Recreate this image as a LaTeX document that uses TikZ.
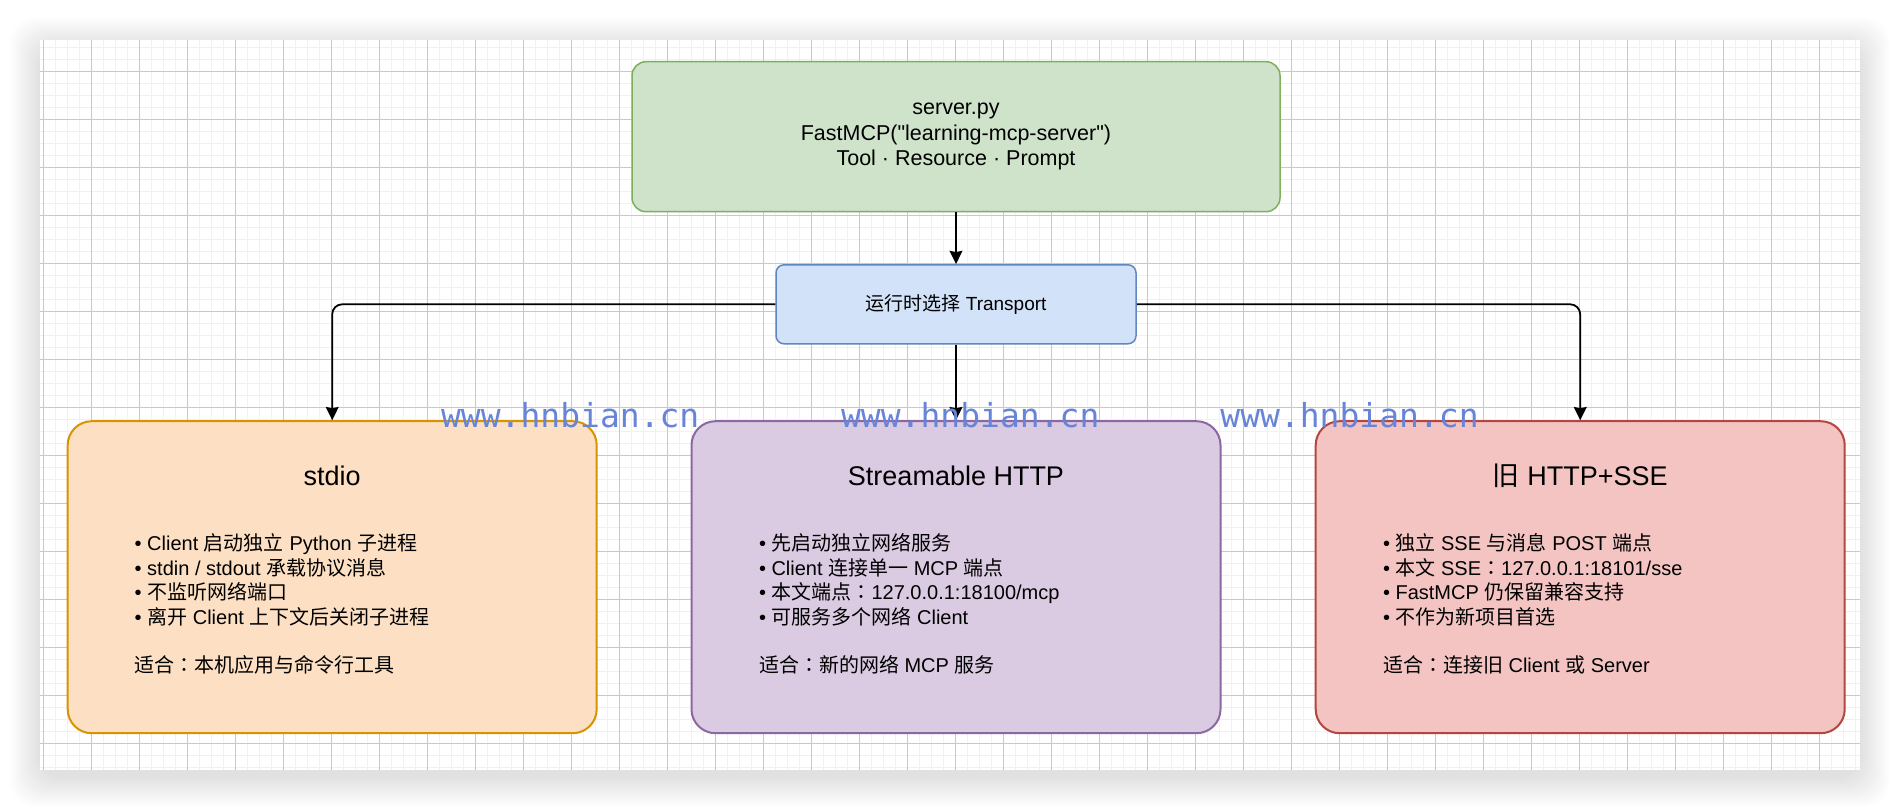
\documentclass[tikz,border=0pt]{standalone}
\usepackage{fontspec}
\newfontfamily\lat{Liberation Sans}
\newfontfamily\cjk{Noto Sans CJK SC}
\newfontfamily\cjktc{Noto Sans CJK TC}
\newfontfamily\wmfont{DejaVu Sans Mono}
\usetikzlibrary{arrows.meta}
\newcommand{\Zh}[1]{{\cjk #1}}
\newcommand{\Fcolon}{{\cjktc ：}}
\definecolor{gfill}{HTML}{CFE3CB}
\definecolor{gline}{HTML}{7CB05C}
\definecolor{bfill}{HTML}{D2E2F9}
\definecolor{bline}{HTML}{6287C0}
\definecolor{ofill}{HTML}{FDE0C4}
\definecolor{oline}{HTML}{D69400}
\definecolor{pfill}{HTML}{DACBE3}
\definecolor{pline}{HTML}{8C68A3}
\definecolor{rfill}{HTML}{F4C4C3}
\definecolor{rline}{HTML}{B3463F}
\definecolor{wmblue}{HTML}{6784D8}
\definecolor{majgrid}{HTML}{C8C8C8}
\definecolor{mingrid}{HTML}{F1F1F1}
\begin{document}
\begin{tikzpicture}[x=0.5pt,y=-0.5pt,
  conn/.style={line width=0.9pt, -{Stealth[length=6.6pt,width=6.4pt,inset=0.6pt]}},
  bigbox/.style={line width=1pt, rounded corners=12pt, minimum width=264.5pt, minimum height=156pt, inner sep=0pt},
  titletext/.style={anchor=base, inner sep=0pt, font=\lat\fontsize{13.5}{16}\selectfont},
  linetext/.style={anchor=base west, inner sep=0pt, font=\lat\fontsize{10}{12}\selectfont},
  wm/.style={anchor=base west, inner sep=0pt, text=wmblue, font=\wmfont\fontsize{16.5}{18}\selectfont}]
\useasboundingbox (0,0) rectangle (1900,810);
% soft shadow of the canvas
\foreach \i in {1,...,30} {
  \fill[black, opacity=0.004, rounded corners=12pt] (40-\i,47-\i) rectangle (1860+\i,777+\i);
}
\fill[white] (40,40) rectangle (1860,770);
% grid
\foreach \k in {0,...,151} { \draw[mingrid, line width=0.5pt] ({43.3+12*\k},40) -- ({43.3+12*\k},770); }
\foreach \k in {0,...,60} { \draw[mingrid, line width=0.5pt] (40,{47.3+12*\k}) -- (1860,{47.3+12*\k}); }
\foreach \k in {0,...,37} { \draw[majgrid, line width=0.5pt] ({43.3+48*\k},40) -- ({43.3+48*\k},770); }
\foreach \k in {0,...,14} { \draw[majgrid, line width=0.5pt] (40,{71.3+48*\k}) -- (1860,{71.3+48*\k}); }

% top boxes
\node[fill=gfill, draw=gline, line width=0.75pt, rounded corners=7pt, minimum width=324pt, minimum height=75pt, align=center, font=\lat\fontsize{10.75}{12.65}\selectfont] (server) at (956,136.7)
  {server.py\\FastMCP("learning-mcp-server")\\Tool · Resource · Prompt};
\node[fill=bfill, draw=bline, line width=0.75pt, rounded corners=4pt, minimum width=180pt, minimum height=39.5pt, font=\lat\fontsize{9.5}{11}\selectfont] (select) at (956,304.3)
  {\Zh{运行时选择} Transport};

% big boxes
\node[bigbox, fill=ofill, draw=oline] (stdio) at (332.2,577.2) {};
\node[bigbox, fill=pfill, draw=pline] (http) at (956,577.2) {};
\node[bigbox, fill=rfill, draw=rline] (sse) at (1580.2,577.2) {};

% stdio texts
\node[titletext] (stdiot) at (332.2,485) {stdio};
\node[linetext] (s1) at (134.3,550.5) {• Client \Zh{启动独立} Python \Zh{子进程}};
\node[linetext] (s2) at (134.3,575) {• stdin / stdout \Zh{承载协议消息}};
\node[linetext] (s3) at (134.3,599.5) {• \Zh{不监听网络端口}};
\node[linetext] (s4) at (134.3,624) {• \Zh{离开} Client \Zh{上下文后关闭子进程}};
\node[linetext] (s5) at (134.3,672.5) {\Zh{适合}\Fcolon\Zh{本机应用与命令行工具}};

% streamable http texts
\node[titletext] (httpt) at (956,485) {Streamable HTTP};
\node[linetext] (h1) at (758.6,550.5) {• \Zh{先启动独立网络服务}};
\node[linetext] (h2) at (758.6,575) {• Client \Zh{连接单一} MCP \Zh{端点}};
\node[linetext] (h3) at (758.6,599.5) {• \Zh{本文端点}\Fcolon 127.0.0.1:18100/mcp};
\node[linetext] (h4) at (758.6,624) {• \Zh{可服务多个网络} Client};
\node[linetext] (h5) at (758.6,672.5) {\Zh{适合}\Fcolon\Zh{新的网络} MCP \Zh{服务}};

% sse texts
\node[titletext] (sset) at (1580.2,485) {\Zh{旧} HTTP+SSE};
\node[linetext] (r1) at (1382.6,550.5) {• \Zh{独立} SSE \Zh{与消息} POST \Zh{端点}};
\node[linetext] (r2) at (1382.6,575) {• \Zh{本文} SSE\Fcolon 127.0.0.1:18101/sse};
\node[linetext] (r3) at (1382.6,599.5) {• FastMCP \Zh{仍保留兼容支持}};
\node[linetext] (r4) at (1382.6,624) {• \Zh{不作为新项目首选}};
\node[linetext] (r5) at (1382.6,672.5) {\Zh{适合}\Fcolon\Zh{连接旧} Client \Zh{或} Server};

% connectors
\draw[conn] (server.south) -- (select.north);
\draw[conn, rounded corners=5pt] (select.west) -| (stdio.north);
\draw[conn] (select.south) -- (http.north);
\draw[conn, rounded corners=5pt] (select.east) -| (sse.north);

% watermarks
\node[wm] (wm1) at (440.7,427.3) {www.hnbian.cn};
\node[wm] (wm2) at (840.7,427.3) {www.hnbian.cn};
\node[wm] (wm3) at (1220,427.3) {www.hnbian.cn};
\end{tikzpicture}
\end{document}
